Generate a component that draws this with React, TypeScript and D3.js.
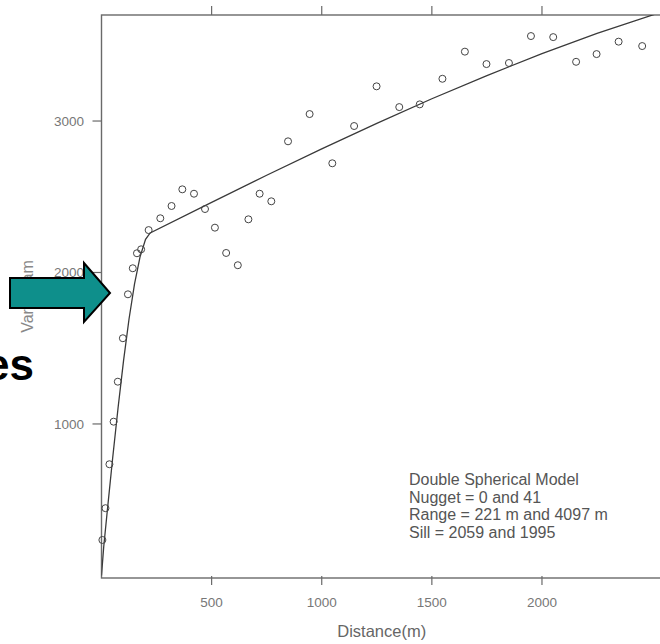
import React from "react";
import * as d3 from "d3";

// Empirical variogram points
const distances = [4, 18, 36, 55, 74, 97, 120, 142, 161, 180, 214, 267, 318, 367, 420, 470, 515, 566, 619, 667, 718, 771, 847, 945, 1048, 1147, 1249, 1352, 1445, 1548, 1650, 1748, 1850, 1950, 2051, 2155, 2248, 2348, 2455];
const semivariance = [234, 444, 734, 1015, 1279, 1566, 1856, 2028, 2127, 2153, 2280, 2358, 2439, 2549, 2520, 2419, 2296, 2129, 2048, 2351, 2520, 2470, 2866, 3046, 2721, 2967, 3229, 3092, 3110, 3279, 3458, 3376, 3383, 3561, 3554, 3391, 3442, 3524, 3495];

// Fitted double spherical model curve
const modelDist = [0, 10, 25, 50, 75, 100, 125, 150, 175, 200, 221, 500, 750, 1000, 1250, 1500, 1750, 2000, 2250, 2500, 2545];
const modelGamma = [0, 188, 407, 765, 1104, 1416, 1693, 1925, 2103, 2219, 2261, 2463, 2642, 2816, 2985, 3147, 3300, 3445, 3578, 3699, 3720];

const xTicks = [500, 1000, 1500, 2000];
const yTicks = [1000, 2000, 3000];
const legendLines = ["Double Spherical Model", "Nugget = 0 and 41", "Range = 221 m and 4097 m", "Sill = 2059 and 1995"];

const W = 660;
const H = 644;
const left = 101.5, right = 662, top = 15, bottom = 578;

export default function App() {
  const x = d3.scaleLinear().domain([0, 2545]).range([left, right]);
  const y = d3.scaleLinear().domain([-17, 3700]).range([bottom, top]);
  const line = d3
    .line<number>()
    .x((_, i) => x(modelDist[i]))
    .y((d) => y(d));
  const axisColor = "#6a6a6a";
  const font = "'Liberation Sans', Arial, sans-serif";
  const arrow = [
    [10, 278], [84, 278], [84, 263], [110, 293], [84, 322], [84, 308], [10, 308],
  ];
  return (
    <svg width={W} height={H} style={{ position: "absolute", left: 0, top: 0, background: "#fff" }} fontFamily={font}>
      <defs>
        <clipPath id="plotClip">
          <rect x={left} y={top} width={right - left} height={bottom - top} />
        </clipPath>
      </defs>
      {/* frame */}
      <rect x={left} y={top} width={right - left} height={bottom - top} fill="none" stroke={axisColor} strokeWidth={1.4} />
      {/* x ticks bottom and top */}
      {xTicks.map((t) => (
        <g key={"xt" + t}>
          <line x1={x(t)} x2={x(t)} y1={bottom - 2} y2={bottom + 7} stroke={axisColor} strokeWidth={1.2} />
          <line x1={x(t)} x2={x(t)} y1={top} y2={top - 9} stroke={axisColor} strokeWidth={1.2} />
          <text x={x(t)} y={607} textAnchor="middle" fontSize={13.5} fill="#777">{t}</text>
        </g>
      ))}
      {/* y ticks */}
      {yTicks.map((t) => (
        <g key={"yt" + t}>
          <line x1={left} x2={left - 9} y1={y(t)} y2={y(t)} stroke={axisColor} strokeWidth={1.2} />
          <text x={84} y={y(t) + 5} textAnchor="end" fontSize={13.5} fill="#777">{t}</text>
        </g>
      ))}
      {/* axis labels */}
      <text x={(left + right) / 2} y={637} textAnchor="middle" fontSize={16.5} fill="#666">Distance(m)</text>
      <text transform={`translate(33,${(top + bottom) / 2}) rotate(-90)`} textAnchor="middle" fontSize={16} fill="#888">Variogram</text>
      {/* model line */}
      <g clipPath="url(#plotClip)">
        <path d={line(modelGamma) || ""} fill="none" stroke="#3a3a3a" strokeWidth={1.3} />
      </g>
      {/* points */}
      {distances.map((d, i) => (
        <circle key={"p" + i} cx={x(d)} cy={y(semivariance[i])} r={3.5} fill="none" stroke="#444" strokeWidth={1} />
      ))}
      {/* legend text */}
      {legendLines.map((s, i) => (
        <text key={"l" + i} x={409} y={485 + i * 17.6} fontSize={16} fill="#555">{s}</text>
      ))}
      {/* arrow overlay */}
      <polygon points={arrow.map((p) => p.join(",")).join(" ")} fill="#0e8f8b" stroke="#000" strokeWidth={2} strokeLinejoin="miter" />
      {/* slide text fragment */}
      <text x={34} y={380} textAnchor="end" fontSize={44} fontWeight="bold" fill="#000">es</text>
    </svg>
  );
}
